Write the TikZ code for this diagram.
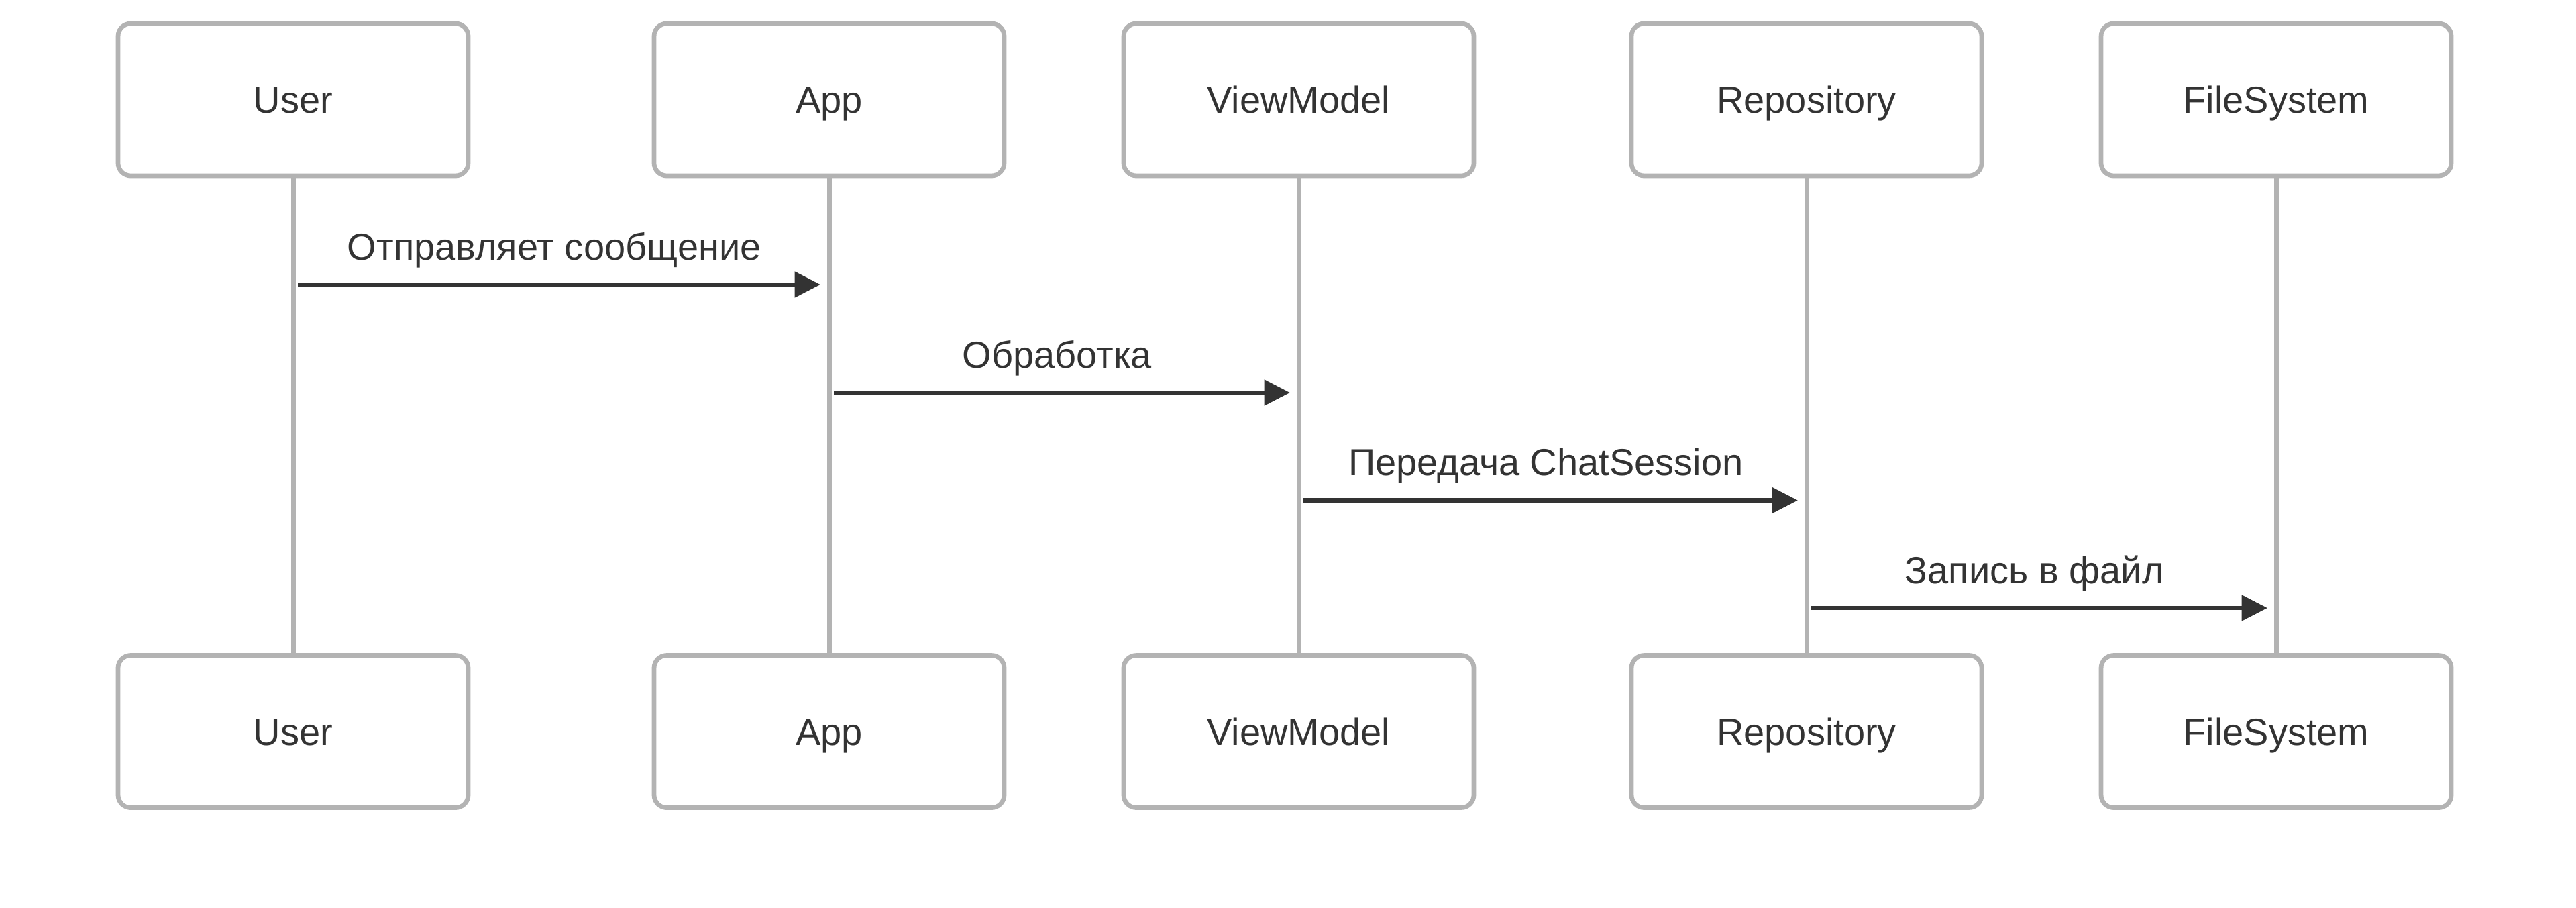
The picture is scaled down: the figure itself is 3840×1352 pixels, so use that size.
\documentclass[tikz,border=0pt]{standalone}
\usepackage{fontspec}
\setmainfont{Liberation Sans}
\usetikzlibrary{arrows.meta}
\definecolor{boxgray}{HTML}{B3B3B3}
\definecolor{ink}{HTML}{333333}
\tikzset{
  actor/.style={draw=boxgray, line width=1.35pt, rounded corners=3.8pt, fill=white,
    minimum width=104.4pt, minimum height=45.4pt, inner sep=0pt, text=ink,
    text height=8pt, text depth=0pt,
    font=\fontsize{11.2pt}{13pt}\selectfont},
  life/.style={draw=boxgray, line width=1.4pt},
  msg/.style={draw=ink, line width=1.35pt, -{Triangle[length=7.7pt,width=7.5pt]}, shorten >=2.6pt, shorten <=0.7pt},
  msglabel/.style={text=ink, font=\fontsize{11.2pt}{13pt}\selectfont, inner sep=0pt,
    anchor=base, yshift=7.4pt, xshift=-2.4pt}
}
\begin{document}
\begin{tikzpicture}[x=0.2pt,y=-0.2pt]
\useasboundingbox[fill=white] (0,0) rectangle (3840,1352);
% top actors
\node[actor] (ut) at (437,148.5) {User};
\node[actor] (at) at (1236,148.5) {App};
\node[actor] (vt) at (1936,148.5) {ViewModel};
\node[actor] (rt) at (2693,148.5) {Repository};
\node[actor] (ft) at (3393,148.5) {FileSystem};
% bottom actors
\node[actor] (ub) at (437,1090) {User};
\node[actor] (ab) at (1236,1090) {App};
\node[actor] (vb) at (1936,1090) {ViewModel};
\node[actor] (rb) at (2693,1090) {Repository};
\node[actor] (fb) at (3393,1090) {FileSystem};
% lifelines
\draw[life] (ut.south) -- (ub.north);
\draw[life] (at.south) -- (ab.north);
\draw[life] (vt.south) -- (vb.north);
\draw[life] (rt.south) -- (rb.north);
\draw[life] (ft.south) -- (fb.north);
% message rows
\coordinate (y1) at (0,424);
\coordinate (y2) at (0,585);
\coordinate (y3) at (0,745.5);
\coordinate (y4) at (0,906);
\draw[msg] ([xshift=0.7pt]ut.south |- y1) -- (at.south |- y1)
  node[msglabel, midway] (l1) {Отправляет сообщение};
\draw[msg] ([xshift=0.7pt]at.south |- y2) -- (vt.south |- y2)
  node[msglabel, midway] (l2) {Обработка};
\draw[msg] ([xshift=0.7pt]vt.south |- y3) -- (rt.south |- y3)
  node[msglabel, midway] (l3) {Передача ChatSession};
\draw[msg] ([xshift=0.7pt]rt.south |- y4) -- (ft.south |- y4)
  node[msglabel, midway] (l4) {Запись в файл};
\end{tikzpicture}
\end{document}
